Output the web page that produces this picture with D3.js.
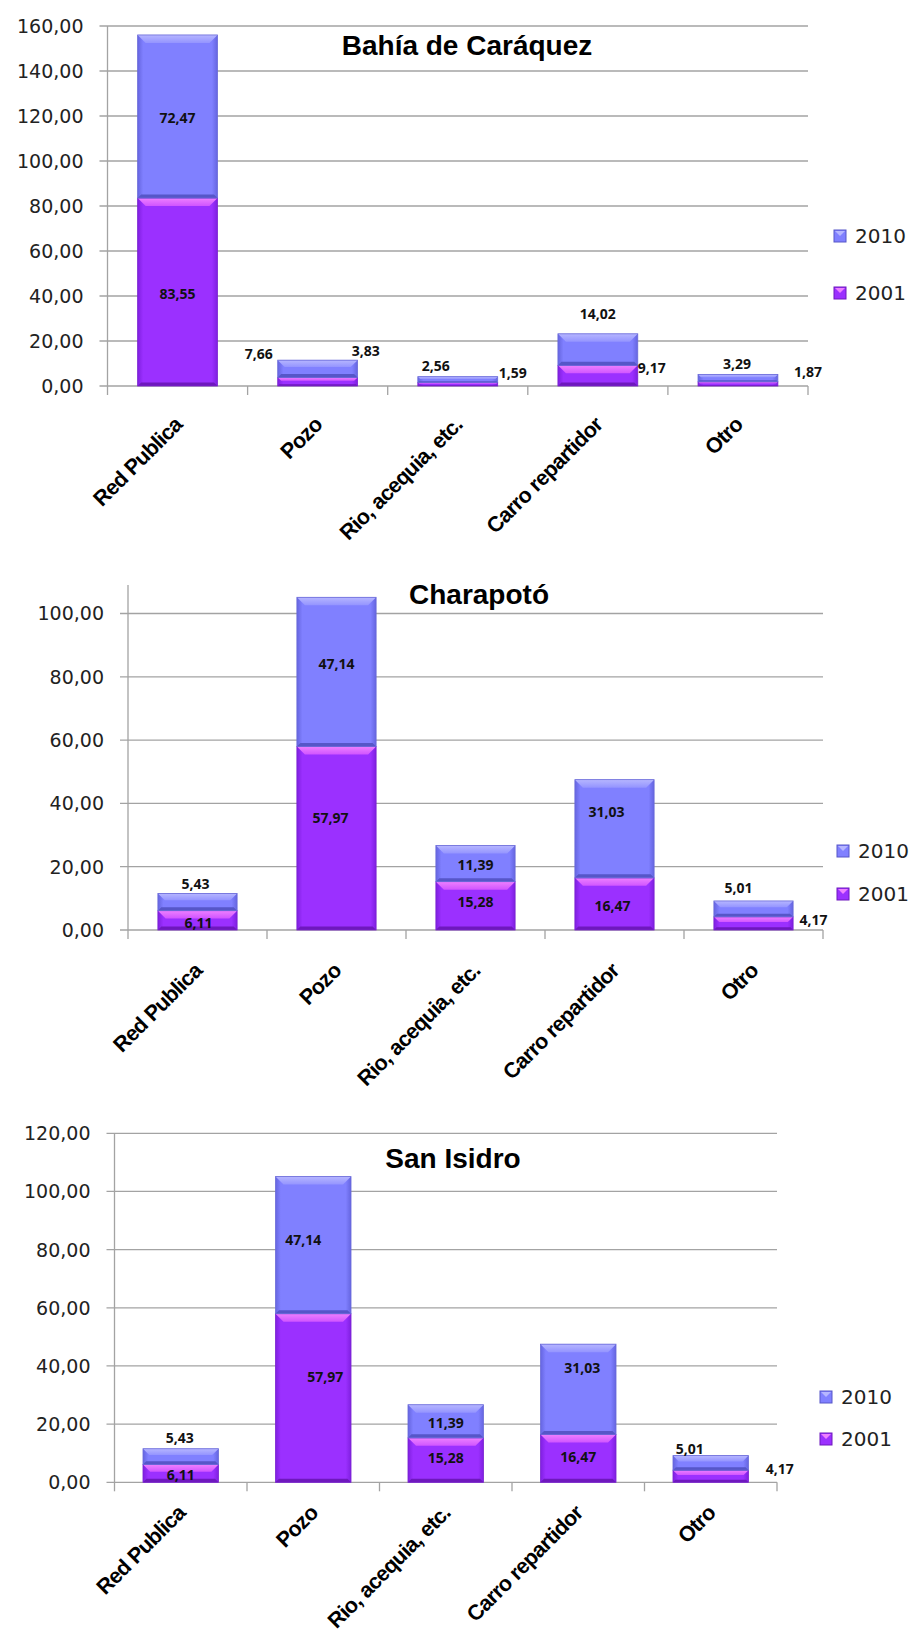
<!DOCTYPE html>
<html lang="es">
<head>
<meta charset="utf-8">
<title>Fuente de agua</title>
<script src="https://d3js.org/d3.v7.min.js"></script>
<style>
  body{margin:0;background:#fff;}
  .tick-label{font-family:"DejaVu Sans",Verdana,sans-serif;font-size:19px;fill:#222;}
  .title{font-family:"Liberation Sans",Arial,sans-serif;font-weight:bold;font-size:28px;fill:#000;}
  .cat{font-family:"Liberation Sans",Arial,sans-serif;font-weight:bold;font-size:21.5px;letter-spacing:-0.7px;fill:#000;}
  .val{font-family:"Open Sans",sans-serif;font-weight:bold;font-size:14px;fill:#111;}
  .leg{font-family:"DejaVu Sans",Verdana,sans-serif;font-size:20px;fill:#222;}
</style>
</head>
<body>
<div id="chart"></div>
<script>
// data
var categories = ["Red Publica", "Pozo", "Rio, acequia, etc.", "Carro repartidor", "Otro"];
var years = ["2001", "2010"];

var bahia2001 = [83.55, 3.83, 1.59, 9.17, 1.87];
var bahia2010 = [72.47, 7.66, 2.56, 14.02, 3.29];

var charapoto2001 = [6.11, 57.97, 15.28, 16.47, 4.17];
var charapoto2010 = [5.43, 47.14, 11.39, 31.03, 5.01];

var sanIsidro2001 = [6.11, 57.97, 15.28, 16.47, 4.17];
var sanIsidro2010 = [5.43, 47.14, 11.39, 31.03, 5.01];

var ticksBahia = [0, 20, 40, 60, 80, 100, 120, 140, 160];
var ticksCharapoto = [0, 20, 40, 60, 80, 100];
var ticksSanIsidro = [0, 20, 40, 60, 80, 100, 120];

// layout of each panel (pixels), kept apart from the data
var charts = [
  {title: "Bahía de Caráquez", s2001: bahia2001, s2010: bahia2010, ticks: ticksBahia, max: 160,
   left: 107.5, right: 808, top: 26, bottom: 386, titleX: 467, titleY: 55,
   legX: 834, legY: [230, 287], catDy: 40,
   nudge2001: [[0,1],[48,-31],[55,-12],[54,-8],[70,-12]],
   nudge2010: [[0,1],[-59,-15],[-22,-14],[0,-36],[-1,-15]]},
  {title: "Charapotó", s2001: charapoto2001, s2010: charapoto2010, ticks: ticksCharapoto, max: 109,
   left: 128, right: 823, top: 585, bottom: 930, titleX: 479, titleY: 604,
   legX: 837, legY: [845, 888], catDy: 42,
   nudge2001: [[1,2],[-6,-21],[0,-4],[-2,2],[60,-4]],
   nudge2010: [[-2,-19],[0,-8],[0,1],[-8,-17],[-15,-21]]},
  {title: "San Isidro", s2001: sanIsidro2001, s2010: sanIsidro2010, ticks: ticksSanIsidro, max: 120,
   left: 114.5, right: 777, top: 1133.3, bottom: 1482.3, titleX: 453, titleY: 1168,
   legX: 820, legY: [1391, 1433], catDy: 32,
   nudge2001: [[0,1],[12,-22],[0,-3],[0,-2],[69,-8]],
   nudge2010: [[-1,-19],[-10,-6],[0,1],[4,-22],[-21,-14]]}
];

// colours of the two series: main, side edge, light top bevel, dark bottom bevel
var palette = {
  "2010": {main: "#8080ff", edge: "#6565e0", light: "#b6b6ff", light2: "#9494ff", dark: "#5656c8", stroke: "#6a6ad8"},
  "2001": {main: "#9b30ff", edge: "#7f1fe0", light: "#ee80ff", light2: "#d055ff", dark: "#6e18bd", stroke: "#7a22d0"}
};

var W = 909, H = 1633;
var svg = d3.select("#chart").append("svg").attr("width", W).attr("height", H);
var defs = svg.append("defs");

years.forEach(function(y){
  var p = palette[y];
  var side = defs.append("linearGradient").attr("id", "side" + y).attr("x1", 0).attr("x2", 1).attr("y1", 0).attr("y2", 0);
  side.append("stop").attr("offset", "0%").attr("stop-color", p.edge);
  side.append("stop").attr("offset", "7%").attr("stop-color", p.main);
  side.append("stop").attr("offset", "93%").attr("stop-color", p.main);
  side.append("stop").attr("offset", "100%").attr("stop-color", p.edge);
  var topG = defs.append("linearGradient").attr("id", "top" + y).attr("x1", 0).attr("x2", 0).attr("y1", 0).attr("y2", 1);
  topG.append("stop").attr("offset", "0%").attr("stop-color", p.light);
  topG.append("stop").attr("offset", "100%").attr("stop-color", p.light2);
});

// one bevelled bar segment
function segment(g, x, y, w, h, key){
  var p = palette[key];
  if (h <= 0) return;
  var b = Math.min(8, h * 0.4);
  var b2 = Math.min(3.5, h * 0.2);
  g.append("rect").attr("x", x).attr("y", y).attr("width", w).attr("height", h)
    .attr("fill", "url(#side" + key + ")");
  g.append("polygon")
    .attr("points", [[x, y], [x + w, y], [x + w - b, y + b], [x + b, y + b]].join(" "))
    .attr("fill", "url(#top" + key + ")");
  g.append("polygon")
    .attr("points", [[x + b2, y + h - b2], [x + w - b2, y + h - b2], [x + w, y + h], [x, y + h]].join(" "))
    .attr("fill", p.dark);
  g.append("rect").attr("x", x).attr("y", y).attr("width", w).attr("height", h)
    .attr("fill", "none").attr("stroke", p.stroke).attr("stroke-width", 0.8);
}

charts.forEach(function(c){
  var g = svg.append("g");

  var rows = categories.map(function(cat, i){
    return {cat: cat, "2001": c.s2001[i], "2010": c.s2010[i]};
  });
  var stacked = d3.stack().keys(years)(rows);

  var x = d3.scaleBand().domain(categories).range([c.left, c.right]).paddingInner(0.43).paddingOuter(0.215);
  var step = x.step();
  var yScale = d3.scaleLinear().domain([0, c.max]).range([c.bottom, c.top]);

  // gridlines
  g.selectAll(".grid").data(c.ticks.filter(function(t){ return t > 0; })).enter()
    .append("line").attr("class", "grid")
    .attr("x1", c.left - 8).attr("x2", c.right)
    .attr("y1", function(d){ return yScale(d); }).attr("y2", function(d){ return yScale(d); })
    .attr("stroke", "#a3a3a3").attr("stroke-width", 1.3);

  // axes
  g.append("line").attr("x1", c.left).attr("x2", c.left).attr("y1", c.top).attr("y2", c.bottom)
    .attr("stroke", "#a3a3a3").attr("stroke-width", 1.3);
  g.append("line").attr("x1", c.left - 8).attr("x2", c.right).attr("y1", c.bottom).attr("y2", c.bottom)
    .attr("stroke", "#a3a3a3").attr("stroke-width", 1.3);
  g.selectAll(".ylab").data(c.ticks).enter().append("text").attr("class", "tick-label")
    .attr("x", c.left - 24).attr("y", function(d){ return yScale(d); })
    .attr("text-anchor", "end").attr("dominant-baseline", "central")
    .text(function(d){ return d3.format(".2f")(d).replace(".", ","); });

  // category tick marks at slot boundaries
  var bounds = d3.range(categories.length + 1).map(function(i){ return c.left + i * step; });
  g.selectAll(".xtick").data(bounds).enter().append("line")
    .attr("x1", function(d){ return d; }).attr("x2", function(d){ return d; })
    .attr("y1", c.bottom).attr("y2", c.bottom + 9)
    .attr("stroke", "#a3a3a3").attr("stroke-width", 1.3);

  // stacked bars
  stacked.forEach(function(layer){
    layer.forEach(function(d){
      segment(g, x(d.data.cat), yScale(d[1]), x.bandwidth(), yScale(d[0]) - yScale(d[1]), layer.key);
    });
  });

  // value labels
  stacked.forEach(function(layer){
    var nud = layer.key === "2001" ? c.nudge2001 : c.nudge2010;
    g.selectAll(".val" + layer.key).data(layer).enter().append("text").attr("class", "val")
      .attr("x", function(d, i){ return x(d.data.cat) + x.bandwidth() / 2 + nud[i][0]; })
      .attr("y", function(d, i){ return yScale((d[0] + d[1]) / 2) + nud[i][1]; })
      .attr("text-anchor", "middle").attr("dominant-baseline", "central")
      .text(function(d){ return d3.format(".2f")(d.data[layer.key]).replace(".", ","); });
  });

  // rotated category labels
  g.selectAll(".cat").data(categories).enter().append("text").attr("class", "cat")
    .attr("text-anchor", "end")
    .attr("transform", function(d){
      var cx = x(d) + x.bandwidth() / 2 + 6, cy = c.bottom + c.catDy;
      return "translate(" + cx + "," + cy + ") rotate(-45)";
    })
    .text(function(d){ return d; });

  // title
  g.append("text").attr("class", "title").attr("x", c.titleX).attr("y", c.titleY)
    .attr("text-anchor", "middle").text(c.title);

  // legend, 2010 above 2001
  ["2010", "2001"].forEach(function(key, i){
    var ly = c.legY[i];
    var p = palette[key];
    g.append("rect").attr("x", c.legX).attr("y", ly).attr("width", 12).attr("height", 12)
      .attr("fill", p.main).attr("stroke", p.dark).attr("stroke-width", 1);
    g.append("polygon")
      .attr("points", [[c.legX + 1, ly + 1], [c.legX + 11, ly + 1], [c.legX + 6, ly + 6]].join(" "))
      .attr("fill", p.light);
    g.append("text").attr("class", "leg").attr("x", c.legX + 21).attr("y", ly + 6)
      .attr("dominant-baseline", "central").text(key);
  });
});
</script>
</body>
</html>
